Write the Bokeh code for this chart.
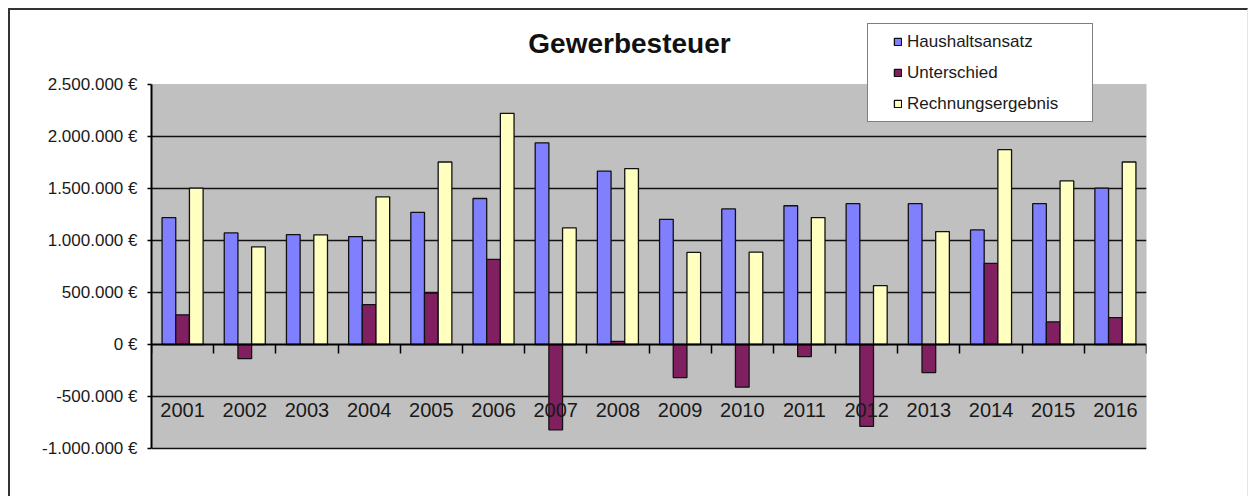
import numpy as np
from bokeh.plotting import figure
from bokeh.models import (ColumnDataSource, Range1d, FixedTicker, LinearAxis,
                          Legend, LegendItem, BoxAnnotation, Label)
from bokeh.transform import dodge
from bokeh.embed import file_html
from bokeh.resources import INLINE

# ---------------- data ----------------
years = [2001, 2002, 2003, 2004, 2005, 2006, 2007, 2008,
         2009, 2010, 2011, 2012, 2013, 2014, 2015, 2016]
haushaltsansatz = [1220000, 1073000, 1057000, 1038000, 1271000, 1404000, 1939000, 1667000,
                   1204000, 1304000, 1334000, 1354000, 1354000, 1102000, 1354000, 1503000]
unterschied = [285000, -136000, -2000, 383000, 495000, 819000, -820000, 30000,
               -318000, -410000, -116000, -787000, -270000, 780000, 218000, 258000]
rechnungsergebnis = [1503000, 939000, 1055000, 1420000, 1755000, 2223000, 1121000, 1692000,
                     885000, 888000, 1220000, 567000, 1086000, 1873000, 1573000, 1755000]
series_names = ["Haushaltsansatz", "Unterschied", "Rechnungsergebnis"]
series_colors = ["#8080FF", "#802060", "#FFFFC0"]
y_ticks = [-1000000, -500000, 0, 500000, 1000000, 1500000, 2000000, 2500000]
title_text = "Gewerbesteuer"


def euro(v):
    return f"{v:,.0f}".replace(",", ".") + " €"


FONT = "Liberation Sans"
TXT = "#1a1a1a"

# layout (pixels): canvas 1240x488; plot area from 74 to 438 (canvas), frame to 450
AREA_TOP = 74
AREA_BOTTOM = 438
FRAME_H = 450
area_h = AREA_BOTTOM - AREA_TOP
span = y_ticks[-1] - y_ticks[0]
y_end = y_ticks[-1] + span * AREA_TOP / area_h
y_start = y_ticks[0] - span * (FRAME_H - AREA_BOTTOM) / area_h
pad = FRAME_H - AREA_BOTTOM

x = list(range(1, len(years) + 1))
src = ColumnDataSource(dict(x=x, h=haushaltsansatz, u=unterschied, r=rechnungsergebnis))

p = figure(width=1240, height=488,
           x_range=Range1d(0.5, len(years) + 0.5),
           y_range=Range1d(y_start, y_end),
           output_backend="svg", toolbar_location=None,
           x_axis_location=None, y_axis_location="left",
           min_border_left=141, min_border_right=104,
           min_border_top=0, min_border_bottom=488 - FRAME_H)
p.title.visible = False

p.styles = {"margin-left": "8px", "margin-top": "8px",
            "border-left": "2px solid #333333", "border-top": "2px solid #333333",
            "border-right": "1px solid #e6e6e6"}

p.background_fill_color = "white"
p.border_fill_color = "white"
p.outline_line_color = None

# grey plot area
area = BoxAnnotation(bottom=y_ticks[0], top=y_ticks[-1], fill_color="#C0C0C0", fill_alpha=1,
                     line_color="#808080", line_width=1, level="image")
p.add_layout(area)

# title
p.add_layout(Label(x=478, y=pad + 364 + 10 + 31, x_units="screen", y_units="screen",
                   text=title_text, text_align="center", text_baseline="alphabetic",
                   text_font=FONT, text_font_size="28px", text_font_style="bold",
                   text_color="#111111"))

# y axis
yax = p.yaxis[0]
yax.ticker = FixedTicker(ticks=y_ticks)
yax.bounds = (y_ticks[0], y_ticks[-1])
yax.major_label_overrides = {t: euro(t) for t in y_ticks}
yax.major_tick_out = 4
yax.major_tick_in = 0
yax.minor_tick_out = 0
yax.minor_tick_in = 0
yax.major_tick_line_width = 1.5
yax.major_tick_line_color = "black"
yax.axis_line_width = 2
yax.axis_line_color = "black"
yax.major_label_text_font = FONT
yax.major_label_text_font_size = "17px"
yax.major_label_text_color = TXT
yax.major_label_standoff = 10

# grid
p.xgrid.visible = False
p.ygrid.ticker = FixedTicker(ticks=[t for t in y_ticks if t not in (0, y_ticks[-1])])
p.ygrid.grid_line_color = "#111111"
p.ygrid.grid_line_width = 1.5
p.ygrid.bounds = (0.5, len(years) + 0.5)

# bars
offsets = [-0.22, 0.0, 0.22]
cols = ["h", "u", "r"]
renderers = []
for off, col, color in zip(offsets, cols, series_colors):
    rr = p.vbar(x=dodge("x", off), top=col, width=0.22, source=src,
                fill_color=color, line_color="#111111", line_width=1.3)
    renderers.append(rr)

# x axis: ticks between categories
bounds = [i + 0.5 for i in range(0, len(years) + 1)]
ax_ticks = LinearAxis(fixed_location=0, ticker=FixedTicker(ticks=bounds),
                      major_label_overrides={b: "" for b in bounds})
ax_ticks.major_tick_out = 9
ax_ticks.major_tick_in = 0
ax_ticks.minor_tick_out = 0
ax_ticks.minor_tick_in = 0
ax_ticks.major_tick_line_width = 1.5
ax_ticks.major_tick_line_color = "black"
ax_ticks.axis_line_width = 2
ax_ticks.axis_line_color = "black"
p.add_layout(ax_ticks, "below")

# x axis: year labels at category centers
ax_labels = LinearAxis(fixed_location=0, ticker=FixedTicker(ticks=x),
                       major_label_overrides={i: str(yr) for i, yr in zip(x, years)})
ax_labels.major_tick_out = 0
ax_labels.major_tick_in = 0
ax_labels.minor_tick_out = 0
ax_labels.minor_tick_in = 0
ax_labels.axis_line_color = None
ax_labels.major_label_standoff = 58
ax_labels.major_label_text_font = FONT
ax_labels.major_label_text_font_size = "20px"
ax_labels.major_label_text_color = TXT
p.add_layout(ax_labels, "below")

# legend box (frame) and legend items
dummy = p.vbar(x=[], top=[], width=0.1, fill_alpha=0, line_alpha=0)
leg_box = Legend(items=[LegendItem(label=" ", renderers=[dummy])],
                 location=(716, 326 + pad), padding=0, spacing=0, margin=0,
                 glyph_width=1, glyph_height=1, label_standoff=0,
                 label_width=223, label_height=97,
                 label_text_font_size="1px",
                 border_line_color="black", border_line_width=1.5,
                 background_fill_color="white", background_fill_alpha=1)
p.add_layout(leg_box)

leg = Legend(items=[LegendItem(label=n, renderers=[r]) for n, r in zip(series_names, renderers)],
             location=(742, 334 + pad), padding=0, margin=0, spacing=10,
             glyph_width=9, glyph_height=9, label_standoff=5, label_height=21,
             border_line_alpha=0, background_fill_alpha=0,
             label_text_font=FONT, label_text_font_size="17px",
             label_text_color=TXT)
p.add_layout(leg)

open("out.html", "w").write(file_html(p, INLINE))
